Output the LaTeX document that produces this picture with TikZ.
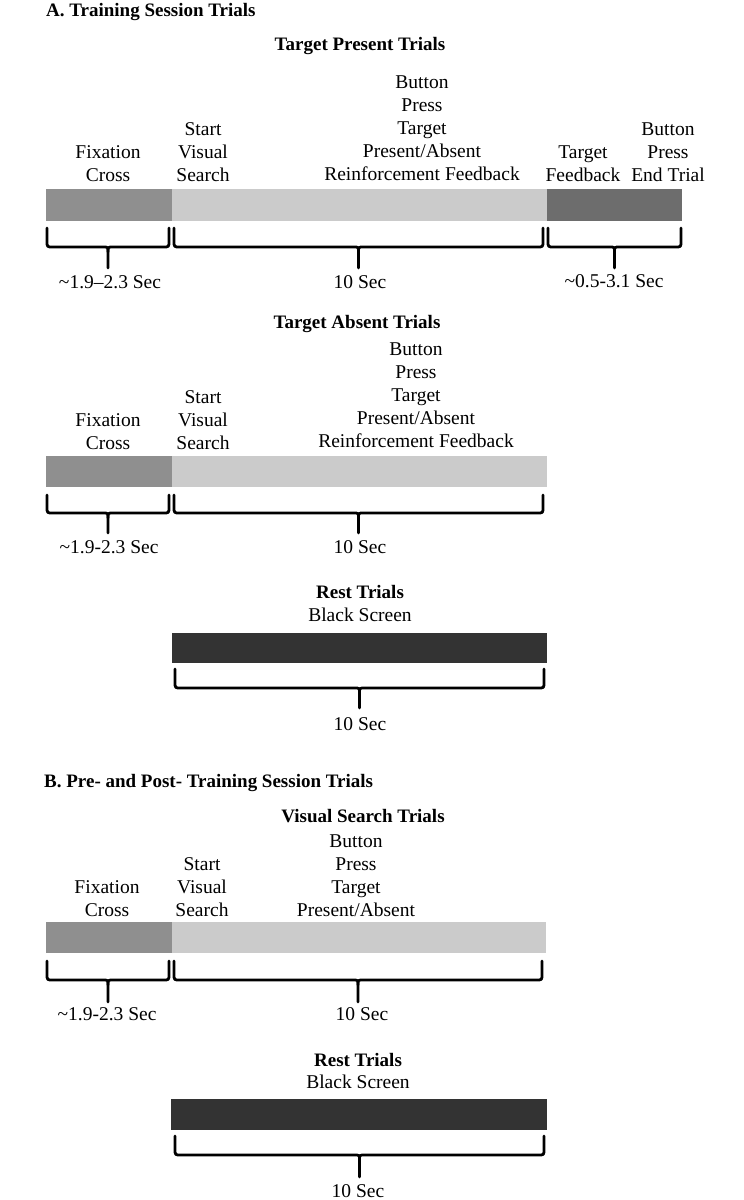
\documentclass[tikz,border=0pt]{standalone}
\usepackage{fontspec}
\setmainfont{Liberation Serif}
\definecolor{fixgray}{HTML}{8F8F8F}
\definecolor{searchgray}{HTML}{CBCBCB}
\definecolor{fbgray}{HTML}{6D6D6D}
\definecolor{restgray}{HTML}{333333}
\tikzset{
  bracestyle/.style={line width=2.8pt, line cap=round, line join=round, black},
  lbl/.style={font=\fontsize{19.5}{23}\selectfont, align=center, inner sep=0pt, anchor=south},
  durlbl/.style={font=\fontsize{19.5}{23}\selectfont, inner sep=0pt, anchor=base},
  ttl/.style={font=\fontsize{19}{23}\selectfont\bfseries, inner sep=0pt, anchor=base},
  sect/.style={font=\fontsize{19}{23}\selectfont\bfseries, inner sep=0pt, anchor=base west},
}
\newcommand{\timebrace}[5]{%
  \pgfmathsetmacro{\bxm}{(#1+#2)/2}%
  \draw[bracestyle] (#1,#3) -- (#1,#4-6) .. controls (#1,#4) .. (#1+6,#4) -- (\bxm-5,#4) .. controls (\bxm,#4) .. (\bxm,#4+5) -- (\bxm,#5);
  \draw[bracestyle] (#2,#3) -- (#2,#4-6) .. controls (#2,#4) .. (#2-6,#4) -- (\bxm+5,#4) .. controls (\bxm,#4) .. (\bxm,#4+5);
}
\begin{document}
\begin{tikzpicture}[x=1pt,y=-1pt]
\useasboundingbox (0,0) rectangle (744,1200);

% ---------- A ----------
\node[sect] (secA) at (46,16) {A. Training Session Trials};

% Target Present
\node[ttl] (tpTitle) at (360,50) {Target Present Trials};
\fill[fixgray] (46,189) rectangle (172,221);
\fill[searchgray] (172,189) rectangle (547,221);
\fill[fbgray] (547,189) rectangle (682,221);
\node[lbl] (tpFix) at (108,182) {Fixation\\Cross};
\node[lbl] (tpStart) at (203,182) {Start\\Visual\\Search};
\node[lbl] (tpBtn) at (422,181) {Button\\Press\\Target\\Present/Absent\\Reinforcement Feedback};
\node[lbl] (tpFb) at (583,182) {Target\\Feedback};
\node[lbl] (tpEnd) at (668,182) {Button\\Press\\End Trial};
\timebrace{47}{169}{228}{247}{268}
\timebrace{174}{543}{228}{247}{268}
\timebrace{548}{681}{228}{247}{268}
\node[durlbl] (tpD1) at (110,288) {\textasciitilde1.9–2.3 Sec};
\node[durlbl] (tpD2) at (360,288) {10 Sec};
\node[durlbl] (tpD3) at (614,287) {\textasciitilde0.5-3.1 Sec};

% Target Absent
\node[ttl] (taTitle) at (357,328) {Target Absent Trials};
\fill[fixgray] (46,456) rectangle (172,487);
\fill[searchgray] (172,456) rectangle (547,487);
\node[lbl] (taFix) at (108,450) {Fixation\\Cross};
\node[lbl] (taStart) at (203,450) {Start\\Visual\\Search};
\node[lbl] (taBtn) at (416,448) {Button\\Press\\Target\\Present/Absent\\Reinforcement Feedback};
\timebrace{47}{169}{495}{513}{533}
\timebrace{174}{543}{495}{513}{533}
\node[durlbl] (taD1) at (109,553) {\textasciitilde1.9-2.3 Sec};
\node[durlbl] (taD2) at (360,553) {10 Sec};

% Rest 1
\node[ttl] (r1Title) at (360,598) {Rest Trials};
\node[durlbl] (r1Sub) at (360,621) {Black Screen};
\fill[restgray] (172,633) rectangle (547,663);
\timebrace{175}{544}{669}{688}{708}
\node[durlbl] (r1D) at (360,730) {10 Sec};

% ---------- B ----------
\node[sect] (secB) at (44,787) {B. Pre- and Post- Training Session Trials};
\node[ttl] (vsTitle) at (363,822) {Visual Search Trials};
\fill[fixgray] (46,922) rectangle (172,953);
\fill[searchgray] (172,922) rectangle (546,953);
\node[lbl] (vsFix) at (107,917) {Fixation\\Cross};
\node[lbl] (vsStart) at (202,917) {Start\\Visual\\Search};
\node[lbl] (vsBtn) at (356,917) {Button\\Press\\Target\\Present/Absent};
\timebrace{47}{169}{961}{980}{1002}
\timebrace{174}{542}{961}{980}{1002}
\node[durlbl] (vsD1) at (107,1020) {\textasciitilde1.9-2.3 Sec};
\node[durlbl] (vsD2) at (362,1020) {10 Sec};

% Rest 2
\node[ttl] (r2Title) at (358,1066) {Rest Trials};
\node[durlbl] (r2Sub) at (358,1088) {Black Screen};
\fill[restgray] (171,1099) rectangle (547,1130);
\timebrace{175}{544}{1136}{1155}{1177}
\node[durlbl] (r2D) at (358,1197) {10 Sec};
\end{tikzpicture}
\end{document}
